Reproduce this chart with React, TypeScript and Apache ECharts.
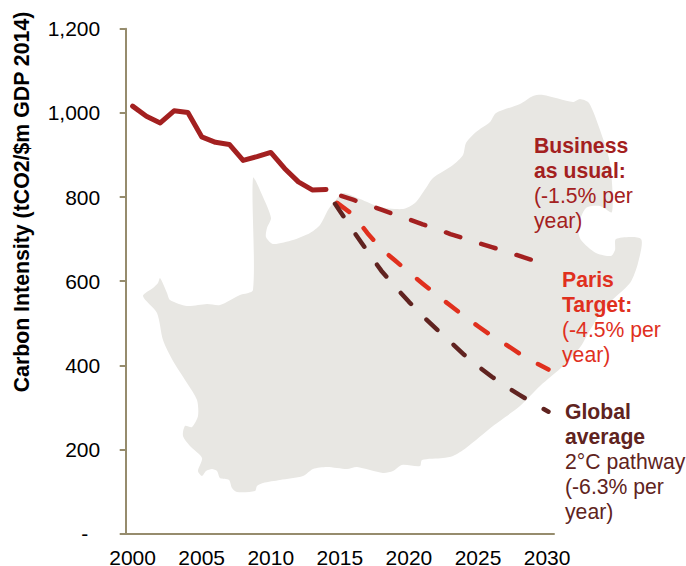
import React, { useEffect, useRef } from "react";
import * as echarts from "echarts";

const categories: string[] = [];
for (let y = 2000; y <= 2030; y++) categories.push(String(y));

const histYears = [2000, 2001, 2002, 2003, 2004, 2005, 2006, 2007, 2008, 2009, 2010, 2011, 2012, 2013, 2014];
const histValues = [1016, 992, 976, 1005, 1001, 943, 930, 925, 887, 896, 906, 868, 836, 817, 818];

const bauYears = [2015.1, 2016, 2017, 2018, 2019, 2020, 2021, 2022, 2023, 2024, 2025, 2026, 2027, 2028, 2029.05];
const bauValues = [803, 793, 782, 770, 758, 747, 735, 724, 712, 702, 691, 681, 671, 660, 649];

const parisYears = [2014.8, 2016, 2017, 2018, 2019, 2020, 2021, 2022, 2023, 2024, 2025, 2026, 2027, 2028, 2029, 2030.1];
const parisValues = [786, 757, 714, 677, 649, 621, 594, 568, 542, 517, 493, 470, 450, 428, 409, 390];

const globalYears = [2014.65, 2015, 2016, 2017, 2018, 2019, 2020, 2021, 2022, 2023, 2024, 2025, 2026, 2027, 2028, 2029, 2030.1];
const globalValues = [784, 767, 718, 671, 625, 587, 551, 517, 486, 456, 425, 398, 373, 350, 330, 310, 290];

const mapOutline: number[][] = [
  [253, 178], [263, 197], [271, 218], [267, 228], [266, 237], [273, 244], [293, 240], [310, 233], [320, 225], [328, 210], [334, 202],
  [343, 193], [360, 199], [380, 207], [403, 209], [415, 203], [426, 188], [433, 178], [453, 165], [463, 155], [466, 143], [476, 132],
  [490, 122], [496, 113], [520, 104], [533, 96], [543, 95], [573, 102], [580, 99], [589, 103], [600, 130], [610, 163], [612, 212],
  [600, 206], [586, 208], [578, 227], [581, 240], [596, 253], [611, 256], [615, 250], [616, 239], [641, 239], [638, 263], [630, 283],
  [606, 306], [590, 330], [581, 346], [563, 366], [540, 386], [520, 406], [493, 426], [466, 448], [453, 456], [443, 458], [422, 460],
  [420, 466], [402, 465], [393, 471], [383, 473], [357, 467], [347, 469], [327, 467], [313, 469], [303, 476], [280, 480], [263, 483],
  [257, 486], [255, 491], [237, 492], [232, 488], [229, 480], [220, 478], [217, 471], [212, 469], [206, 471], [202, 476], [198, 471],
  [202, 458], [190, 446], [183, 436], [185, 426], [192, 427], [198, 416], [197, 400], [187, 383], [173, 361], [163, 340], [157, 313],
  [143, 296], [153, 288], [158, 283], [160, 278], [167, 293], [170, 300], [187, 306], [207, 304], [220, 305], [240, 295], [253, 290],
];

const RED = "#A32020";
const ORANGE = "#E0301E";
const DARK = "#602320";
const AXIS = "#968C6D";
const FONT = "'Liberation Sans', Arial, sans-serif";
const Y_TITLE = "Carbon Intensity (tCO2/$m GDP 2014)";

const pair = (xs: number[], ys: number[]) => xs.map((x, i) => [x, ys[i]]);

const label = (x: number, y: number, text: string, color: string, bold: boolean) => ({
  type: "text",
  x,
  y,
  z: 5,
  style: {
    text,
    fill: color,
    font: `${bold ? "bold " : ""}21.2px ${FONT}`,
    lineHeight: 25,
    textVerticalAlign: "top",
  },
});

export default function App() {
  const ref = useRef<HTMLDivElement>(null);
  useEffect(() => {
    const chart = echarts.init(ref.current!, undefined, { renderer: "svg" });
    const dashed = (name: string, xs: number[], ys: number[], color: string) => ({
      name,
      type: "line",
      xAxisIndex: 1,
      data: pair(xs, ys),
      showSymbol: false,
      silent: true,
      lineStyle: { color, width: 4.5, type: [15, 22], cap: "round", join: "round" },
    });
    chart.setOption({
      animation: false,
      backgroundColor: "#fff",
      textStyle: { fontFamily: FONT },
      grid: { left: 125.7, right: 132, top: 28.7, bottom: 32.3, containLabel: false, outerBoundsMode: "none" },
      xAxis: [
        {
          type: "category",
          data: categories,
          boundaryGap: true,
          axisLine: { lineStyle: { color: AXIS, width: 2 } },
          axisTick: { interval: 4, length: 5, lineStyle: { color: AXIS, width: 2 } },
          axisLabel: { interval: 4, color: "#000", fontSize: 21, lineHeight: 17, fontFamily: FONT, margin: 15, hideOverlap: false },
        },
        { type: "value", min: 1999.5, max: 2030.5, show: false },
      ],
      yAxis: {
        type: "value",
        min: 0,
        max: 1200,
        interval: 200,
        splitLine: { show: false },
        axisLine: { show: true, lineStyle: { color: AXIS, width: 2 } },
        axisTick: { show: true, length: 6, lineStyle: { color: AXIS, width: 2 } },
        axisLabel: {
          color: "#000",
          fontSize: 21,
          fontFamily: FONT,
          margin: 25.5,
          formatter: (v: number) => (v === 0 ? "{d|-}" : v.toLocaleString("en-US")),
          rich: { d: { color: "#000", fontSize: 21, fontFamily: FONT, padding: [0, 12, 0, 0] } },
        },
      },
      graphic: [
        {
          type: "polygon",
          z: -1,
          silent: true,
          shape: { points: mapOutline, smooth: 0.25 },
          style: { fill: "#E8E7E3" },
        },
        {
          type: "text",
          x: 22,
          y: 202,
          rotation: Math.PI / 2,
          z: 5,
          style: {
            text: Y_TITLE,
            fill: "#000",
            font: `bold 21.3px ${FONT}`,
            textAlign: "center",
            textVerticalAlign: "middle",
          },
        },
        label(534, 133, "Business\nas usual:", RED, true),
        label(534, 183, "(-1.5% per\nyear)", RED, false),
        label(562, 267, "Paris\nTarget:", ORANGE, true),
        label(562, 317, "(-4.5% per\nyear)", ORANGE, false),
        label(565, 399, "Global\naverage", DARK, true),
        label(565, 449, "2°C pathway\n(-6.3% per\nyear)", DARK, false),
      ],
      series: [
        {
          name: "Historical",
          type: "line",
          xAxisIndex: 1,
          data: pair(histYears, histValues),
          showSymbol: false,
          silent: true,
          lineStyle: { color: RED, width: 5, cap: "round", join: "round" },
        },
        dashed("Business as usual", bauYears, bauValues, RED),
        dashed("Paris Target", parisYears, parisValues, ORANGE),
        dashed("Global average", globalYears, globalValues, DARK),
      ],
    });
    return () => chart.dispose();
  }, []);
  return <div ref={ref} style={{ position: "absolute", left: 0, top: 0, width: 686, height: 566 }} />;
}
